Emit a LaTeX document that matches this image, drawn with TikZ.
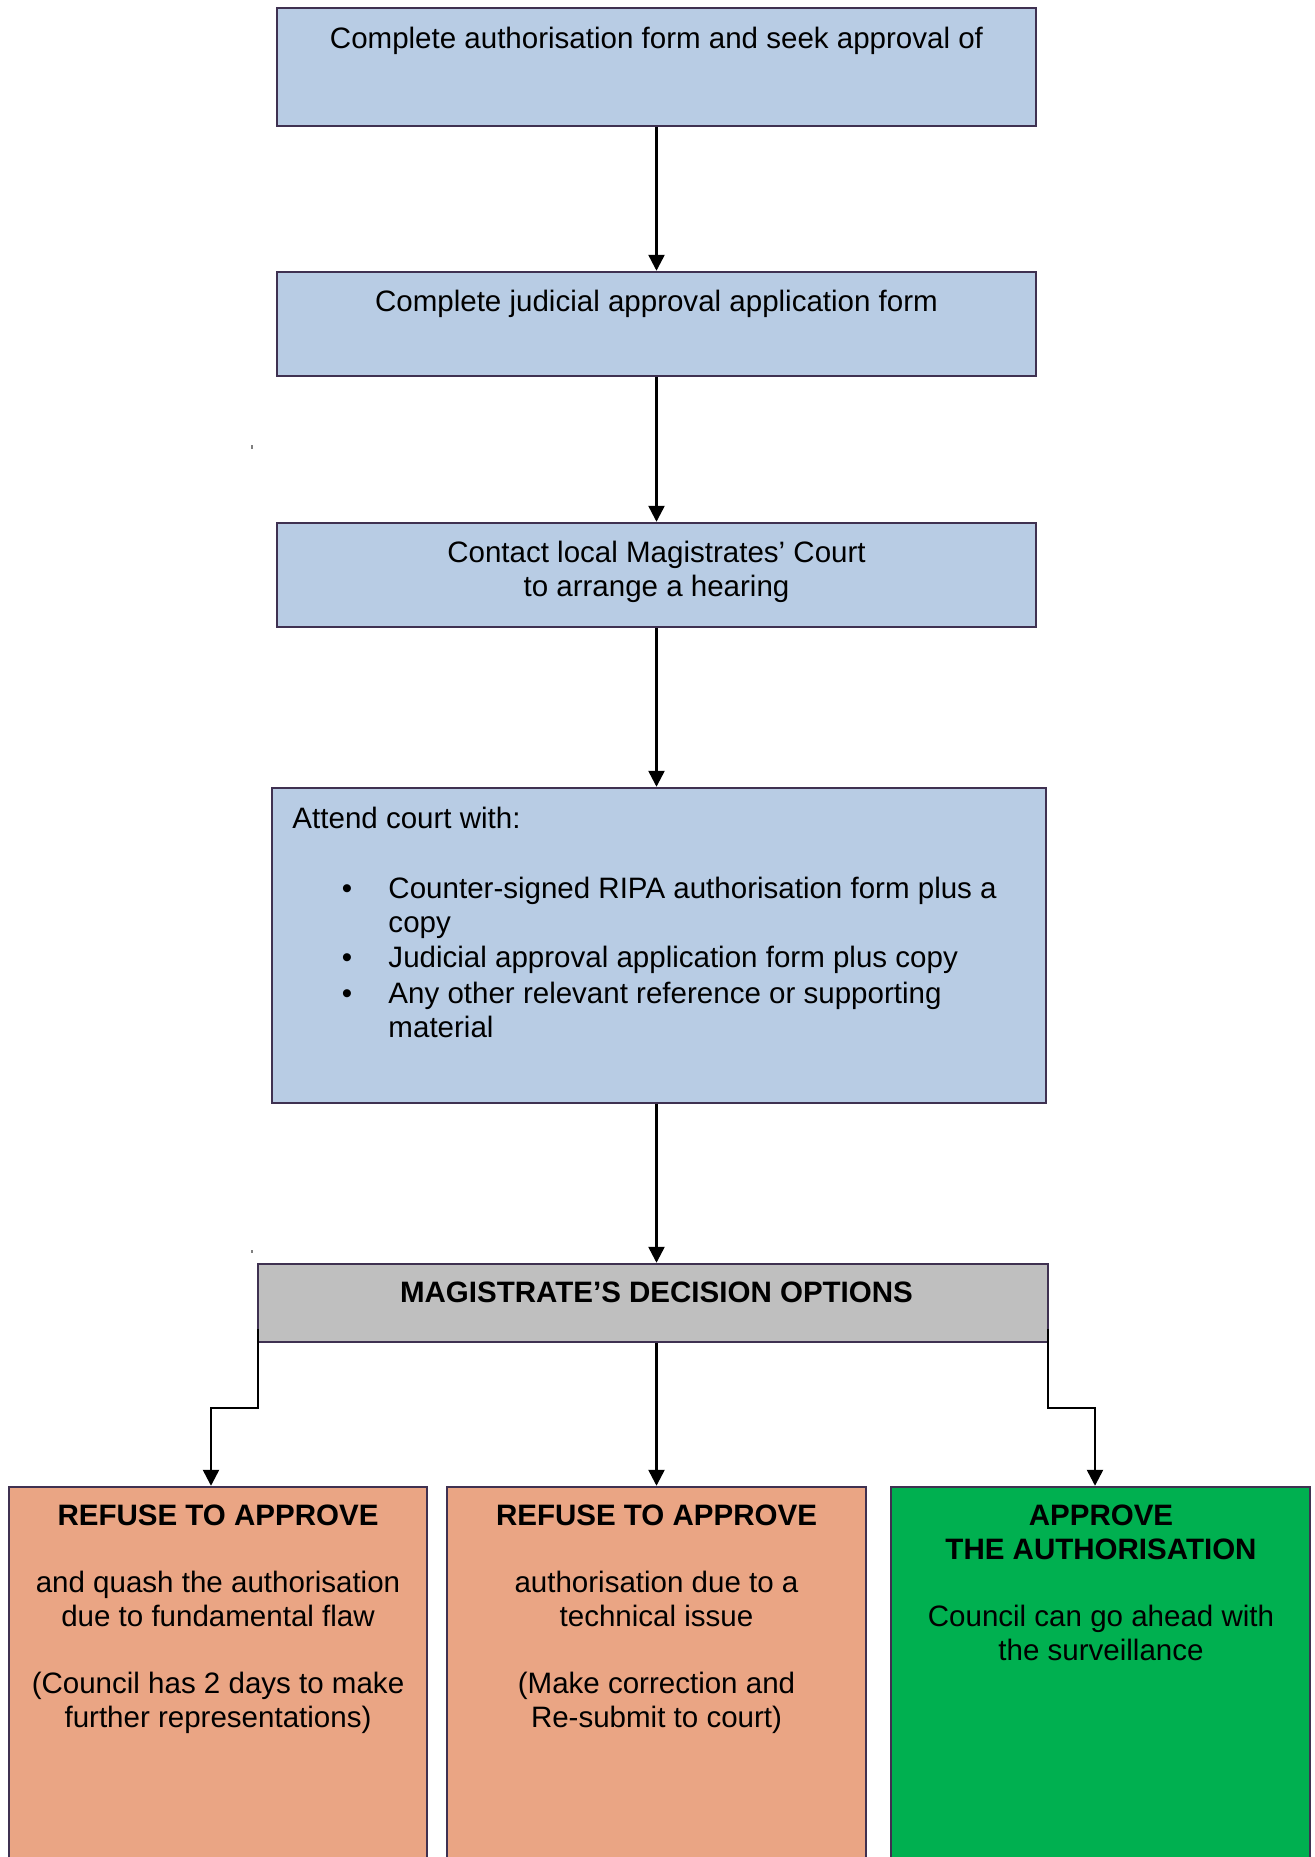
\documentclass[tikz,border=0pt]{standalone}
\usepackage{fontspec}
\setmainfont{Liberation Sans}
\usetikzlibrary{arrows.meta,fit}
\definecolor{boxblue}{HTML}{B8CCE4}
\definecolor{boxedge}{HTML}{3F3151}
\definecolor{boxgray}{HTML}{BFBFBF}
\definecolor{boxsalmon}{HTML}{EAA584}
\definecolor{boxgreen}{HTML}{00B050}
\begin{document}
\begin{tikzpicture}[x=0.4065pt,y=-0.4065pt,
  panel/.style={draw=boxedge, line width=1pt, inner sep=0pt},
  txt/.style={font=\fontsize{12}{13.8}\selectfont, inner sep=0pt, align=center},
  flow/.style={line width=1pt, -{Triangle[length=6.5pt,width=6.5pt]}}]
\useasboundingbox (0,0) rectangle (1314,1857);

% process boxes
\node[panel, fill=boxblue, fit={(277,8)(1036,126)}] (s1) {};
\node[panel, fill=boxblue, fit={(277,272)(1036,376)}] (s2) {};
\node[panel, fill=boxblue, fit={(277,523)(1036,627)}] (s3) {};
\node[panel, fill=boxblue, fit={(272,788)(1046,1103)}] (s4) {};
\node[panel, fill=boxgray, fit={(258,1264)(1048,1342)}] (dec) {};

% outcome boxes (run off the bottom of the page)
\node[panel, fill=boxsalmon, fit={(9,1487)(427,1880)}] (o1) {};
\node[panel, fill=boxsalmon, fit={(447,1487)(866,1880)}] (o2) {};
\node[panel, fill=boxgreen, fit={(891,1487)(1310,1880)}] (o3) {};

% texts
\node[txt, anchor=north] (t1) at (656.5,24) {\strut Complete authorisation form and seek approval of};
\node[txt, anchor=north] (t2) at (656.5,287) {\strut Complete judicial approval application form};
\node[txt, anchor=north] (t3) at (656.5,538) {\strut Contact local Magistrates’ Court\\to arrange a hearing};

\node[txt, anchor=north west, align=left] (t4) at (292,804) {\strut Attend court with:};
\node[txt, anchor=north] (d1) at (347,874) {\strut\textbullet};
\node[txt, anchor=north west, align=left] (i1) at (388,874) {\strut Counter-signed RIPA authorisation form plus a\\copy};
\node[txt, anchor=north] (d2) at (347,943) {\strut\textbullet};
\node[txt, anchor=north west, align=left] (i2) at (388,943) {\strut Judicial approval application form plus copy};
\node[txt, anchor=north] (d3) at (347,979) {\strut\textbullet};
\node[txt, anchor=north west, align=left] (i3) at (388,979) {\strut Any other relevant reference or supporting\\material};

\node[txt, anchor=north] (t5) at (656.5,1278) {\strut\bfseries MAGISTRATE’S DECISION OPTIONS};

\node[txt, anchor=north] (u1) at (218,1501) {\strut\textbf{REFUSE TO APPROVE}\\[13.5pt]
  and quash the authorisation\\due to fundamental flaw\\[13.5pt]
  (Council has 2 days to make\\further representations)};
\node[txt, anchor=north] (u2) at (656.5,1501) {\strut\textbf{REFUSE TO APPROVE}\\[13.5pt]
  authorisation due to a\\technical issue\\[13.5pt]
  (Make correction and\\Re-submit to court)};
\node[txt, anchor=north] (u3) at (1101,1501) {\strut\textbf{APPROVE}\\\textbf{THE AUTHORISATION}\\[13.5pt]
  Council can go ahead with\\the surveillance};

% connectors
\draw[flow] (s1.south) -- (s2.north);
\draw[flow] (s2.south) -- (s3.north);
\draw[flow] (s3.south) -- (s3.south |- s4.north);
\draw[flow] (s4.south -| s1.south) -- (dec.north -| s1.south);
\draw[flow] (dec.south -| o2.north) -- (o2.north);

\coordinate (ls) at (258,1329);
\coordinate (lk) at (211,1408);
\draw[flow] (ls) |- (lk) -- (lk |- o1.north);

\coordinate (rs) at (1048,1329);
\coordinate (rk) at (1095,1408);
\draw[flow] (rs) |- (rk) -- (rk |- o3.north);

% stray specks
\fill[gray] (251,445) rectangle (253,449);
\fill[gray] (251,1250) rectangle (253,1253);
\end{tikzpicture}
\end{document}
